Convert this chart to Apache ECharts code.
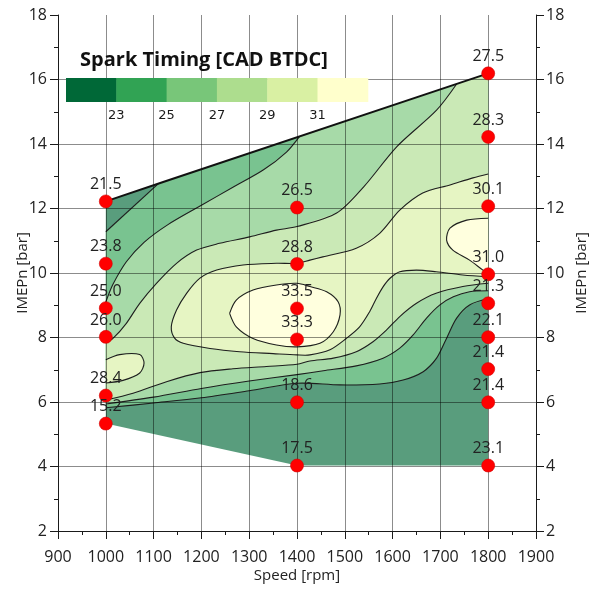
<!DOCTYPE html>
<html>
<head>
<meta charset="utf-8">
<script src="https://cdn.jsdelivr.net/npm/echarts@6/dist/echarts.min.js"></script>
<style>
  html, body { margin: 0; padding: 0; background: #fff; }
  #chart { width: 597px; height: 593px; }
</style>
</head>
<body>
<div id="chart"></div>
<script>
// ---- measured operating points: speed [rpm], IMEPn [bar], spark timing [CAD BTDC]
const pointSpeed = [1000, 1000, 1000, 1000, 1000, 1000,
                    1400, 1400, 1400, 1400, 1400, 1400,
                    1800, 1800, 1800, 1800, 1800, 1800, 1800, 1800, 1800];
const pointLoad  = [12.22, 10.29, 8.91, 8.02, 6.20, 5.33,
                    12.03, 10.28, 8.90, 7.94, 5.99, 4.03,
                    16.19, 14.22, 12.07, 9.96, 9.06, 8.01, 7.02, 5.99, 4.03];
const pointSpark = [21.5, 23.8, 25.0, 26.0, 28.4, 15.2,
                    26.5, 28.8, 33.5, 33.3, 18.6, 17.5,
                    27.5, 28.3, 30.1, 31.0, 21.3, 22.1, 21.4, 21.4, 23.1];

// ---- contour levels and colour classes (YlGn)
const levels = [23, 25, 27, 29, 31];
const bandColors = ['#006837', '#31a354', '#78c679', '#addd8e', '#d9f0a3', '#ffffcc'];

// ---- outline of the measured area (speed, IMEPn)
const hull = [[1000, 12.22], [1120, 12.82], [1800, 16.19], [1800, 4.03], [1400, 4.03], [1000, 5.33]];
const hullTop = [[1000, 12.22], [1120, 12.82], [1800, 16.19]];

// ---- iso-lines (speed, IMEPn)
const c23Low = [[1000, 5.82], [1100, 5.97], [1200, 6.13], [1300, 6.35], [1400, 6.58], [1490, 6.53],
                [1573, 6.56], [1622, 6.68], [1664, 6.94], [1692, 7.36], [1713, 7.98], [1734, 8.60],
                [1761, 9.01], [1800, 9.20]];
const c23Corner = [[1000, 11.28], [1110, 12.77]];
const c25Low = [[1000, 5.94], [1100, 6.15], [1200, 6.42], [1300, 6.65], [1400, 6.85], [1455, 6.97],
                [1524, 7.12], [1580, 7.36], [1615, 7.67], [1643, 8.08], [1671, 8.60], [1699, 9.01],
                [1727, 9.26], [1761, 9.42], [1800, 9.45]];
const c25High = [[1000, 9.10], [1015, 9.65], [1043, 10.35], [1080, 10.95], [1130, 11.50], [1200, 12.10],
                 [1265, 12.65], [1330, 13.20], [1378, 13.75], [1405, 14.23]];
const c27Low = [[1000, 6.06], [1057, 6.27], [1127, 6.63], [1197, 6.91], [1266, 7.03], [1336, 7.10],
                [1400, 7.17], [1427, 7.27], [1476, 7.36], [1524, 7.56], [1559, 7.87], [1587, 8.23],
                [1615, 8.65], [1650, 9.06], [1691, 9.37], [1747, 9.58], [1800, 9.68]];
const c27High = [[1000, 7.84], [1015, 7.97], [1043, 8.44], [1071, 9.06], [1106, 9.68], [1148, 10.30],
                 [1190, 10.71], [1238, 10.92], [1301, 11.12], [1357, 11.33], [1400, 11.44], [1483, 11.86],
                 [1540, 12.68], [1609, 13.92], [1692, 15.05], [1734, 15.86]];
const c29Main = [[1800, 13.07], [1768, 12.95], [1720, 12.73], [1663, 12.48], [1615, 11.95], [1573, 11.23],
                 [1524, 10.77], [1454, 10.50], [1427, 10.40], [1400, 10.30], [1357, 10.30], [1287, 10.25],
                 [1232, 10.09], [1197, 9.84], [1169, 9.37], [1148, 8.85], [1137, 8.33], [1144, 7.98],
                 [1162, 7.82], [1218, 7.66], [1280, 7.56], [1350, 7.50], [1400, 7.46], [1427, 7.46],
                 [1469, 7.62], [1503, 7.97], [1531, 8.33], [1552, 8.80], [1566, 9.21], [1580, 9.57],
                 [1594, 9.83], [1615, 10.04], [1650, 10.09], [1691, 10.04], [1747, 9.94], [1800, 9.88]];
const c29Left = [[1000, 7.31], [1029, 7.47], [1071, 7.47], [1080, 7.21], [1071, 6.90], [1036, 6.67], [1000, 6.59]];
const c31Center = [[1259, 8.75], [1273, 9.16], [1308, 9.47], [1357, 9.63], [1400, 9.68], [1427, 9.58],
                   [1462, 9.42], [1486, 9.11], [1490, 8.70], [1476, 8.18], [1448, 7.82], [1400, 7.71],
                   [1357, 7.77], [1308, 7.97], [1273, 8.33], [1259, 8.75]];
const c31Right = [[1800, 11.70], [1755, 11.64], [1720, 11.39], [1713, 11.02], [1726, 10.71], [1761, 10.40],
                  [1789, 10.09], [1800, 9.98]];

// ---- filled areas for value >= each level; they run past the outline and get clipped to it
const OUT_L = 950, OUT_R = 1850, OUT_T = 17.5;
const rev = a => a.slice().reverse();
const fillLayers = [
  { color: bandColors[0], shapes: [hull] },
  { color: bandColors[1], shapes: [[...c23Low, [OUT_R, 9.20], [OUT_R, OUT_T], [1140, OUT_T], [1140, 13.15],
      ...rev(c23Corner), [OUT_L, 11.28], [OUT_L, 5.82]]] },
  { color: bandColors[2], shapes: [[...c25Low, [OUT_R, 9.45], [OUT_R, OUT_T], [1425, OUT_T], [1425, 14.6],
      ...rev(c25High), [OUT_L, 9.10], [OUT_L, 5.94]]] },
  { color: bandColors[3], shapes: [[...c27Low, [OUT_R, 9.68], [OUT_R, OUT_T], [1755, OUT_T], [1755, 16.3],
      ...rev(c27High), [OUT_L, 7.84], [OUT_L, 6.06]]] },
  { color: bandColors[4], shapes: [[...c29Main, [OUT_R, 9.88], [OUT_R, 13.07]],
      [...c29Left, [OUT_L, 6.59], [OUT_L, 7.31]]] },
  { color: bandColors[5], shapes: [c31Center, [...c31Right, [OUT_R, 9.98], [OUT_R, 11.70]]] }
];
const isoLines = [c23Low, c23Corner, c25Low, c25High, c27Low, c27High, c29Main, c29Left, c31Center, c31Right];

// ---- helpers
const FONT = '"Open Sans", sans-serif';
const FILL_ALPHA = 0.65;
function onWhite(hex, a) {
  const n = parseInt(hex.slice(1), 16);
  const ch = [(n >> 16) & 255, (n >> 8) & 255, n & 255].map(c => Math.round(255 * (1 - a) + c * a));
  return 'rgb(' + ch.join(',') + ')';
}
function cross(a, b, p) {
  return (b[0] - a[0]) * (p[1] - a[1]) - (b[1] - a[1]) * (p[0] - a[0]);
}
// Sutherland-Hodgman clipping of a polygon against a convex outline
function clipConvex(subject, clip) {
  let area = 0;
  for (let i = 0; i < clip.length; i++) {
    const j = (i + 1) % clip.length;
    area += clip[i][0] * clip[j][1] - clip[j][0] * clip[i][1];
  }
  const s = Math.sign(area);
  let out = subject;
  for (let i = 0; i < clip.length && out.length; i++) {
    const a = clip[i], b = clip[(i + 1) % clip.length];
    const input = out;
    out = [];
    for (let k = 0; k < input.length; k++) {
      const cur = input[k], prev = input[(k + input.length - 1) % input.length];
      const dc = s * cross(a, b, cur), dp = s * cross(a, b, prev);
      const hit = () => {
        const t = dp / (dp - dc);
        return [prev[0] + (cur[0] - prev[0]) * t, prev[1] + (cur[1] - prev[1]) * t];
      };
      if (dc >= 0) {
        if (dp < 0) out.push(hit());
        out.push(cur);
      } else if (dp >= 0) {
        out.push(hit());
      }
    }
  }
  return out;
}
const toPx = (api, pts) => pts.map(p => api.coord(p));

const gridColor = 'rgba(0,0,0,0.45)';
const axisColor = '#1a1a1a';
const textColor = '#222';
const plain = v => String(v);

const chart = echarts.init(document.getElementById('chart'), null, { renderer: 'canvas' });

const cellW = 50.3, legendX = 66, legendY = 78, cellH = 24;

function valueAxisY(position, gap, margin, grid) {
  return {
    type: 'value', min: 2, max: 18, interval: 2, position, z: 2,
    name: 'IMEPn [bar]', nameLocation: 'middle', nameGap: gap, nameRotate: 90, nameMoveOverlap: false,
    nameTextStyle: { fontSize: 15, color: textColor, fontFamily: FONT },
    axisLine: { show: true, onZero: false, lineStyle: { color: axisColor, width: 1 } },
    axisTick: { show: true, length: 8, lineStyle: { color: axisColor } },
    minorTick: { show: true, splitNumber: 2, length: 4, lineStyle: { color: axisColor } },
    axisLabel: { fontSize: 16, color: textColor, fontFamily: FONT, margin, formatter: plain },
    splitLine: grid
      ? { show: true, showMaxLine: false, lineStyle: { color: gridColor, width: 1 } }
      : { show: false }
  };
}

chart.setOption({
  animation: false,
  backgroundColor: '#fff',
  grid: { left: 58, right: 61, top: 15, bottom: 62 },
  xAxis: {
    type: 'value', min: 900, max: 1900, interval: 100, z: 2,
    name: 'Speed [rpm]', nameLocation: 'middle', nameGap: 37, nameMoveOverlap: false,
    nameTextStyle: { fontSize: 15, color: textColor, fontFamily: FONT },
    axisLine: { show: true, onZero: false, lineStyle: { color: axisColor, width: 1 } },
    axisTick: { show: true, length: 8, lineStyle: { color: axisColor } },
    minorTick: { show: true, splitNumber: 2, length: 4, lineStyle: { color: axisColor } },
    axisLabel: { fontSize: 16, color: textColor, fontFamily: FONT, margin: 18, formatter: plain },
    splitLine: { show: true, lineStyle: { color: gridColor, width: 1 } }
  },
  yAxis: [
    valueAxisY('left', 28, 11, true),
    valueAxisY('right', 38, 10, false)
  ],
  graphic: [
    {
      type: 'text', x: 204, y: 60, z: 10,
      style: { text: 'Spark Timing [CAD BTDC]', font: 'bold 20px ' + FONT, fill: '#111',
               textAlign: 'center', textVerticalAlign: 'middle' }
    },
    ...bandColors.map((c, i) => ({
      type: 'rect', z: 10,
      shape: { x: legendX + i * cellW, y: legendY, width: cellW + 0.5, height: cellH },
      style: { fill: c }
    })),
    ...levels.map((l, i) => ({
      type: 'text', z: 10, x: legendX + (i + 1) * cellW, y: 116,
      style: { text: String(l), font: '13px "DejaVu Sans", sans-serif', fill: '#1a1a1a',
               textAlign: 'center', textVerticalAlign: 'middle' }
    }))
  ],
  series: [
    {
      type: 'custom', name: 'bands', z: 1, silent: true, clip: false,
      data: fillLayers.map(f => f.shapes[0][0]),
      renderItem(params, api) {
        const layer = fillLayers[params.dataIndex];
        const outline = toPx(api, hull);
        return {
          type: 'group',
          children: layer.shapes.map(s => ({
            type: 'polygon',
            shape: { points: clipConvex(toPx(api, s), outline) },
            style: { fill: onWhite(layer.color, FILL_ALPHA), stroke: null }
          }))
        };
      }
    },
    {
      type: 'custom', name: 'isolines', z: 1, silent: true, clip: false,
      data: isoLines.map(l => l[0]),
      renderItem(params, api) {
        return {
          type: 'polyline',
          shape: { points: toPx(api, isoLines[params.dataIndex]), smooth: 0.3 },
          style: { stroke: '#1e1e1e', lineWidth: 1.1, fill: null }
        };
      }
    },
    {
      type: 'line', name: 'limit', z: 4, silent: true,
      data: hullTop, symbol: 'none',
      lineStyle: { color: '#111', width: 2 }
    },
    {
      type: 'scatter', name: 'spark', z: 5,
      data: pointSpeed.map((s, i) => [s, pointLoad[i], pointSpark[i]]),
      symbol: 'circle', symbolSize: 13,
      itemStyle: { color: '#ff0000', borderColor: '#d40000', borderWidth: 0.6, opacity: 1 },
      label: {
        show: true, position: 'top', distance: 2,
        formatter: p => p.value[2].toFixed(1),
        fontSize: 16, color: textColor, fontFamily: FONT
      }
    }
  ]
});
</script>
</body>
</html>
